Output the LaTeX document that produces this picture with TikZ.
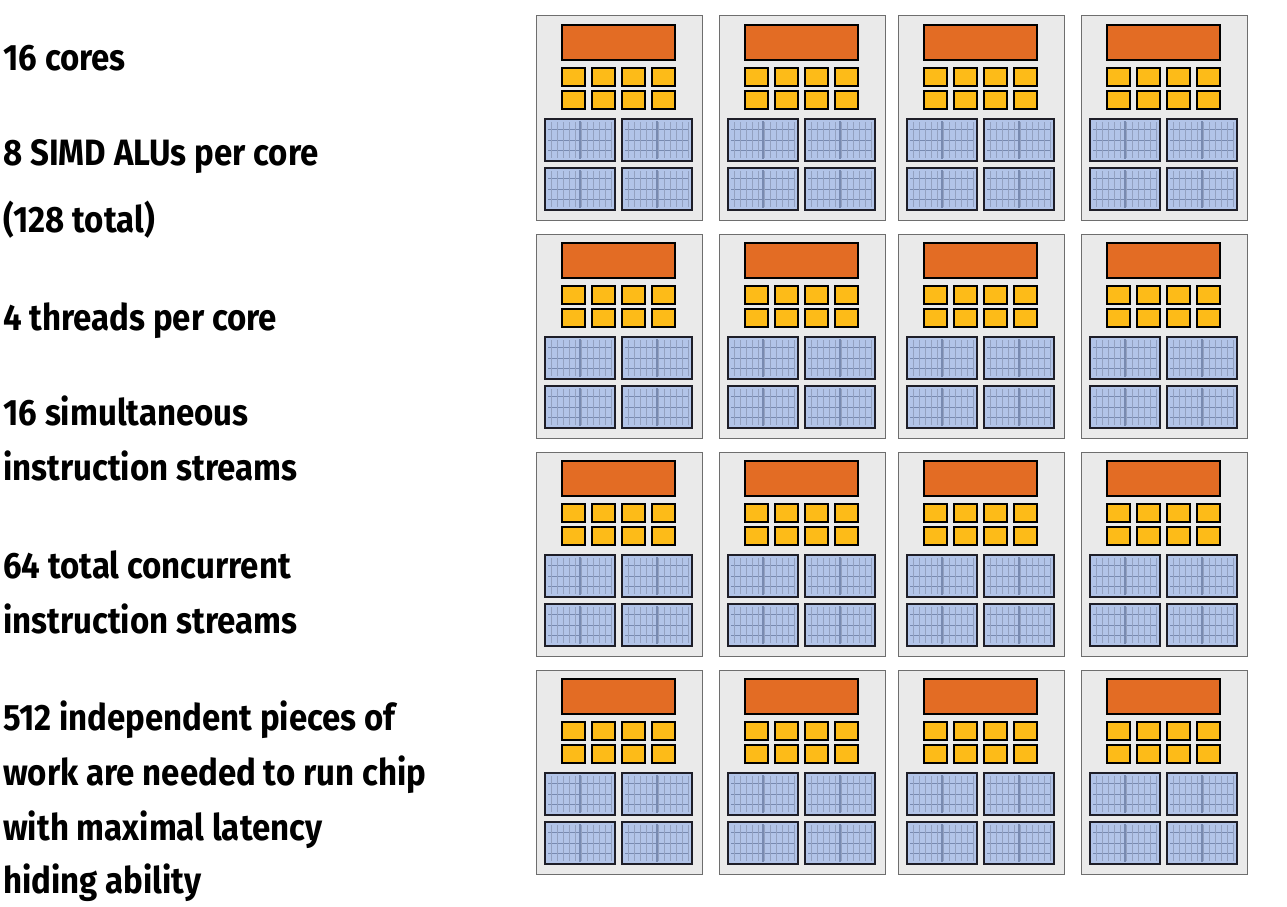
\documentclass[tikz,border=0pt]{standalone}
\usepackage{fontspec}
\setmainfont{Fira Sans}[FakeStretch=0.9]
\definecolor{coregray}{RGB}{234,234,234}
\definecolor{fetchorange}{RGB}{227,108,36}
\definecolor{ctxyellow}{RGB}{253,187,24}
\definecolor{alublue}{RGB}{178,196,232}
\definecolor{aluline}{RGB}{120,138,176}
\tikzset{
  corebox/.style={draw={rgb,255:red,110;green,110;blue,110},fill=coregray,line width=0.75},
  fetchbox/.style={draw=black,fill=fetchorange,line width=1.1},
  ctxbox/.style={draw=black,fill=ctxyellow,line width=1.1},
  alubox/.style={draw={rgb,255:red,30;green,30;blue,40},fill=alublue,line width=1.3},
  label/.style={anchor=base west,inner sep=0pt,font=\fontsize{27.5}{30}\selectfont\bfseries}
}
\newcommand\alublock[2]{%
  \draw [alubox] (#1,#2) rectangle ++(70,42);
  \foreach \r in {1,2,3} \draw [aluline,line width=0.7] (#1+3,#2+\r*10.5) -- (#1+67,#2+\r*10.5);
  \foreach \t in {6,12,...,66} \draw [aluline!80,line width=0.4] (#1+\t,#2+3) -- (#1+\t,#2+39);
  \draw [aluline,line width=1.2] (#1+35,#2+2) -- (#1+35,#2+40);
}
\newcommand\drawcore[2]{%
  \begin{scope}[shift={(#1,#2)}]
  \draw [corebox] (0,0) rectangle (166,204);
  \draw [fetchbox] (26,9) rectangle (139,44);
  \foreach \c in {0,1,2,3} \foreach \r in {0,1}
    \draw [ctxbox] (26+\c*30,52+\r*23) rectangle ++(23,18);
  \alublock{9}{103}\alublock{86}{103}
  \alublock{9}{152}\alublock{86}{152}
  \end{scope}}
\begin{document}
\begin{tikzpicture}[x=0.75pt,y=0.75pt,yscale=-1,xscale=1]
\useasboundingbox (0,0) rectangle (1287,906);

% cores
\foreach \cx in {536,719,898,1081} \foreach \cy in {16,234,452,670}
  \drawcore{\cx}{\cy};

% facts
\node [label] (cores) at (3,70) {16 cores};
\node [label] (alus) at (3,165) {8 SIMD ALUs per core};
\node [label] (total) at (3,232) {(128 total)};
\node [label] (threads) at (3,330) {4 threads per core};
\node [label] (simA) at (3,425) {16 simultaneous};
\node [label] (simB) at (3,480) {instruction streams};
\node [label] (concA) at (3,578) {64 total concurrent};
\node [label] (concB) at (3,633) {instruction streams};
\node [label] (workA) at (3,730) {512 independent pieces of};
\node [label] (workB) at (3,785) {work are needed to run chip};
\node [label] (workC) at (3,840) {with maximal latency};
\node [label] (workD) at (3,893) {hiding ability};
\end{tikzpicture}
\end{document}
